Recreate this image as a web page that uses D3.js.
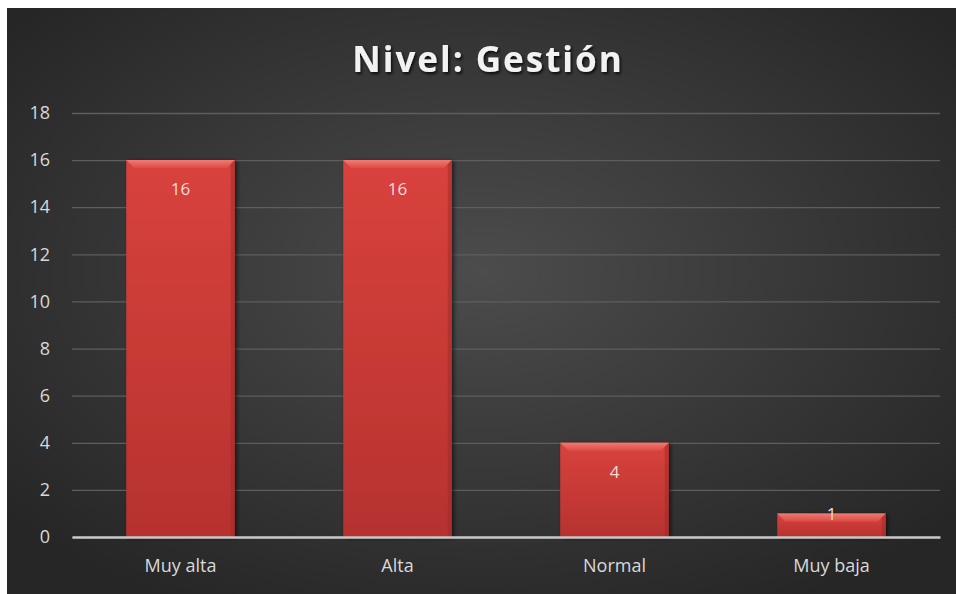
<!DOCTYPE html>
<html>
<head>
<meta charset="utf-8">
<script src="https://cdn.jsdelivr.net/npm/d3@7"></script>
<style>
  body{margin:0;background:#fff;}
  svg{display:block;}
</style>
</head>
<body>
<svg id="chart" width="956" height="594"></svg>
<script>
var categories=["Muy alta","Alta","Normal","Muy baja"],
 values=[16,16,4,1],
 yTicks=[0,2,4,6,8,10,12,14,16,18],
 chartTitle="Nivel: Gestión";

var svg=d3.select("#chart"),
 W=+svg.attr("width"),
 H=+svg.attr("height"),
 margin={top:113,right:16,bottom:57,left:72};

var defs=svg.append("defs");

//background
var bg=defs.append("radialGradient").attr("id","bg")
  .attr("cx","50%").attr("cy","45%").attr("r","65%");
bg.append("stop").attr("offset","0%").attr("stop-color","#4c4c4c");
bg.append("stop").attr("offset","100%").attr("stop-color","#262626");

var barGrad=defs.append("linearGradient").attr("id","barGrad")
  .attr("x1",0).attr("x2",0).attr("y1",0).attr("y2",1);
barGrad.append("stop").attr("offset","0%").attr("stop-color","#d9423d");
barGrad.append("stop").attr("offset","100%").attr("stop-color","#b6322f");

var bevelGrad=defs.append("linearGradient").attr("id","bevelGrad")
  .attr("x1",0).attr("x2",0).attr("y1",0).attr("y2",1);
bevelGrad.append("stop").attr("offset","0%").attr("stop-color","#f07a72");
bevelGrad.append("stop").attr("offset","100%").attr("stop-color","#dc4b45");

var shadow=defs.append("filter").attr("id","shadow")
  .attr("x","-20%").attr("y","-20%").attr("width","140%").attr("height","140%");
shadow.append("feDropShadow").attr("dx",2).attr("dy",1).attr("stdDeviation",2)
  .attr("flood-color","#000").attr("flood-opacity",0.6);

var tshadow=defs.append("filter").attr("id","tshadow");
tshadow.append("feDropShadow").attr("dx",1.5).attr("dy",2).attr("stdDeviation",1.5)
  .attr("flood-color","#000").attr("flood-opacity",0.8);

svg.append("rect").attr("x",7).attr("y",8).attr("width",W-7).attr("height",H-8)
  .attr("fill","url(#bg)");

var width=940-margin.left,
 height=537-margin.top;

var g=svg.append("g").attr("transform","translate("+margin.left+","+margin.top+")");

var x=d3.scaleBand().domain(categories).range([0,width]).paddingInner(0.5).paddingOuter(0.25),
 y=d3.scaleLinear().domain([0,18]).range([height,0]);

//gridlines
g.append("g")
  .call(d3.axisLeft(y).tickValues(yTicks).tickSize(-width).tickFormat(""))
  .call(function(s){
    s.select(".domain").remove();
    s.selectAll("line").attr("stroke","#5e5e5e").attr("stroke-width",1.3);
  });

//y labels
g.append("g")
  .call(d3.axisLeft(y).tickValues(yTicks).tickSize(0).tickPadding(22))
  .call(function(s){
    s.select(".domain").remove();
    s.selectAll("text").attr("fill","#d9d9d9")
      .style("font-family","'Open Sans', 'Noto Sans', sans-serif").style("font-size","18px");
  });

//bars
var bars=g.selectAll(".bar").data(values).enter().append("g").attr("class","bar");
bars.append("rect")
  .attr("x",function(d,i){return x(categories[i]);})
  .attr("y",function(d){return y(d);})
  .attr("width",x.bandwidth())
  .attr("height",function(d){return height-y(d);})
  .attr("fill","url(#barGrad)")
  .attr("filter","url(#shadow)");
//bevel on top
bars.append("path")
  .attr("d",function(d,i){
    var x0=x(categories[i]),x1=x0+x.bandwidth(),y0=y(d),b=Math.min(8,(height-y(d))/2);
    return "M"+x0+","+y0+"L"+x1+","+y0+"L"+(x1-b)+","+(y0+b)+"L"+(x0+b)+","+(y0+b)+"Z";
  })
  .attr("fill","url(#bevelGrad)");
bars.append("path")
  .attr("d",function(d,i){
    var x0=x(categories[i]),x1=x0+x.bandwidth(),y0=y(d),y1=height,b=4;
    return "M"+x1+","+y0+"L"+x1+","+y1+"L"+(x1-b)+","+y1+"L"+(x1-b)+","+(y0+b)+"Z";
  })
  .attr("fill","#9e2a27").attr("opacity",0.5);

bars.append("text")
  .attr("x",function(d,i){return x(categories[i])+x.bandwidth()/2;})
  .attr("y",function(d){return (height-y(d))>40 ? y(d)+35 : y(d)+7;})
  .attr("text-anchor","middle")
  .attr("fill","#f2dcdb")
  .style("font-family","'Open Sans', 'Noto Sans', sans-serif").style("font-size","17px")
  .text(function(d){return d;});

//x axis
g.append("g")
  .attr("transform","translate(0,"+height+")")
  .call(d3.axisBottom(x).tickSize(0).tickPadding(22))
  .call(function(s){
    s.select(".domain").attr("stroke","#c8c8c8").attr("stroke-width",2.5);
    s.selectAll("text").attr("fill","#d9d9d9")
      .style("font-family","'Open Sans', 'Noto Sans', sans-serif").style("font-size","18px");
  });

svg.append("text")
  .attr("x",488).attr("y",72)
  .attr("text-anchor","middle")
  .attr("fill","#f2f2f2")
  .attr("filter","url(#tshadow)")
  .style("font-family","'Open Sans', 'Noto Sans', sans-serif")
  .style("font-size","35px").style("font-weight","bold").style("letter-spacing","2px")
  .text(chartTitle);
</script>
</body>
</html>
